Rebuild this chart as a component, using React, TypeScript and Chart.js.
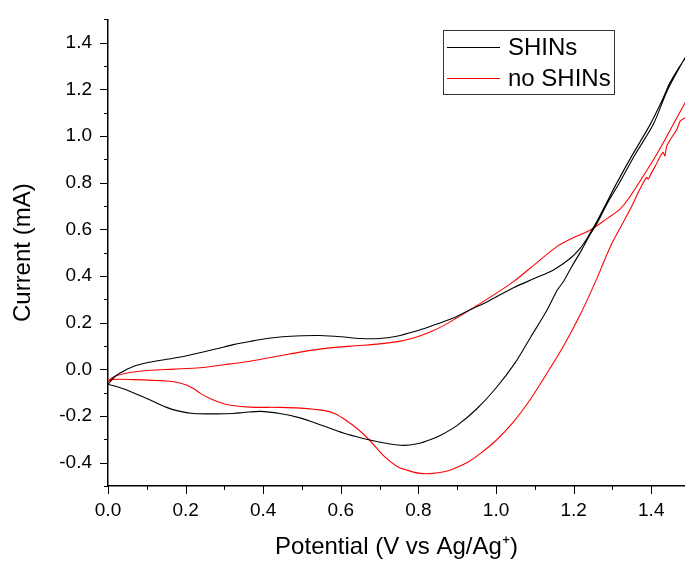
import React, { useEffect, useRef } from 'react';
import Chart from 'chart.js/auto';

const FONT = "'Liberation Sans', Arial, sans-serif";

// Tick labels
const potentialLabels = [0, 0.2, 0.4, 0.6, 0.8, 1.0, 1.2, 1.4];
const currentLabels = [-0.4, -0.2, 0, 0.2, 0.4, 0.6, 0.8, 1.0, 1.2, 1.4];

// Series names / colours
const seriesNames = ['SHINs', 'no SHINs'];
const seriesColors = ['#000000', '#ff0000'];

// SHINs: anodic (forward) scan, [potential V, current mA]
const shinsForward: [number, number][] = [
  [0, -0.064], [0.015, -0.035], [0.031, -0.016], [0.065, 0.012], [0.1, 0.028],
  [0.151, 0.043], [0.2, 0.057], [0.237, 0.071], [0.28, 0.088], [0.323, 0.106],
  [0.37, 0.121], [0.409, 0.132], [0.45, 0.14], [0.5, 0.144], [0.546, 0.145],
  [0.6, 0.14], [0.65, 0.132], [0.7, 0.132], [0.744, 0.142], [0.79, 0.162],
  [0.83, 0.184], [0.89, 0.22], [0.933, 0.255], [0.98, 0.292], [1.045, 0.35],
  [1.1, 0.39], [1.148, 0.426], [1.191, 0.475], [1.215, 0.515], [1.234, 0.56],
  [1.259, 0.631], [1.283, 0.708], [1.31, 0.795], [1.35, 0.915], [1.397, 1.049],
  [1.43, 1.16], [1.448, 1.228], [1.47, 1.29], [1.487, 1.333], [1.5, 1.37],
];
// SHINs: cathodic (reverse) scan
const shinsReverse: [number, number][] = [
  [1.5, 1.37], [1.487, 1.335], [1.465, 1.27], [1.44, 1.19], [1.405, 1.049],
  [1.36, 0.925], [1.318, 0.8], [1.285, 0.706], [1.26, 0.625],
  [1.242, 0.577], [1.22, 0.51], [1.195, 0.44], [1.175, 0.38], [1.16, 0.345],
  [1.156, 0.335], [1.13, 0.25], [1.09, 0.14], [1.05, 0.03], [1.0, -0.08],
  [0.95, -0.17], [0.9, -0.24], [0.86, -0.28], [0.83, -0.302],
  [0.8, -0.318], [0.761, -0.326], [0.72, -0.318], [0.675, -0.303], [0.615, -0.277],
  [0.56, -0.245], [0.529, -0.227], [0.495, -0.208], [0.443, -0.189], [0.392, -0.18],
  [0.35, -0.185], [0.323, -0.189], [0.28, -0.191], [0.22, -0.189], [0.18, -0.178],
  [0.151, -0.163], [0.1, -0.125], [0.065, -0.1], [0.03, -0.078], [0, -0.064],
];

// no SHINs: forward scan
const noShinsForward: [number, number][] = [
  [0, -0.05], [0.014, -0.033], [0.04, -0.019], [0.07, -0.01], [0.108, -0.004],
  [0.17, 0.001], [0.237, 0.007], [0.3, 0.02], [0.366, 0.035], [0.443, 0.058],
  [0.495, 0.074], [0.572, 0.092], [0.64, 0.101], [0.701, 0.109], [0.75, 0.12],
  [0.787, 0.134], [0.83, 0.16], [0.873, 0.195], [0.933, 0.255], [0.99, 0.315],
  [1.045, 0.376], [1.1, 0.45], [1.156, 0.525], [1.2, 0.565], [1.242, 0.596],
  [1.285, 0.645], [1.32, 0.688], [1.345, 0.74], [1.38, 0.83], [1.41, 0.91],
  [1.431, 0.971], [1.46, 1.06], [1.487, 1.142], [1.5, 1.18],
];
// no SHINs: reverse scan
const noShinsReverse: [number, number][] = [
  [1.5, 1.18], [1.495, 1.1], [1.487, 1.078], [1.475, 1.065], [1.466, 1.028],
  [1.455, 1.0], [1.44, 0.957], [1.435, 0.915], [1.43, 0.93], [1.41, 0.87],
  [1.4, 0.84], [1.392, 0.815], [1.388, 0.823], [1.371, 0.773], [1.35, 0.7],
  [1.328, 0.631], [1.3, 0.545], [1.28, 0.47], [1.26, 0.39], [1.22, 0.245],
  [1.174, 0.1], [1.13, -0.02], [1.09, -0.125], [1.045, -0.225], [1.0, -0.305],
  [0.96, -0.36], [0.93, -0.395], [0.9, -0.42], [0.87, -0.438], [0.83, -0.447],
  [0.8, -0.445], [0.77, -0.432], [0.744, -0.415], [0.71, -0.37], [0.675, -0.305],
  [0.645, -0.258], [0.615, -0.22], [0.585, -0.19], [0.555, -0.176], [0.495, -0.166],
  [0.443, -0.163], [0.366, -0.162], [0.32, -0.155], [0.29, -0.143], [0.263, -0.125],
  [0.24, -0.105], [0.22, -0.082], [0.2, -0.066], [0.18, -0.056], [0.151, -0.05],
  [0.065, -0.044], [0.014, -0.043], [0, -0.05],
];

const toPoints = (fwd: [number, number][], rev: [number, number][]) =>
  [...fwd, ...rev.slice(1)].map(([x, y]) => ({ x, y }));

const axisTicksPlugin = {
  id: 'axisTicks',
  afterDraw(chart: any) {
    const { ctx, chartArea, scales } = chart;
    const xs = scales.x;
    const ys = scales.y;
    ctx.save();
    ctx.strokeStyle = '#000';
    ctx.lineWidth = 1;
    for (let i = 0; i <= 20; i++) {
      const v = i / 10;
      if (v > xs.max + 1e-9) break;
      const px = Math.round(xs.getPixelForValue(v)) + 0.5;
      const len = i % 2 === 0 ? 8 : 4;
      ctx.beginPath();
      ctx.moveTo(px, chartArea.bottom);
      ctx.lineTo(px, chartArea.bottom + len);
      ctx.stroke();
    }
    for (let i = -5; i <= 15; i++) {
      const v = i / 10;
      if (v < ys.min - 1e-9 || v > ys.max + 1e-9) continue;
      const py = Math.round(ys.getPixelForValue(v)) + 0.5;
      const len = Math.abs(i % 2) === 0 ? 8 : 4;
      ctx.beginPath();
      ctx.moveTo(chartArea.left - len, py);
      ctx.lineTo(chartArea.left, py);
      ctx.stroke();
    }
    ctx.restore();
  },
};

const boxLegendPlugin = {
  id: 'boxLegend',
  afterDraw(chart: any) {
    const { ctx } = chart;
    const left = 443.5, top = 30.5, w = 171, h = 64;
    ctx.save();
    ctx.fillStyle = '#fff';
    ctx.fillRect(left, top, w, h);
    ctx.strokeStyle = '#333';
    ctx.lineWidth = 1;
    ctx.strokeRect(left, top, w, h);
    chart.data.datasets.forEach((ds: any, i: number) => {
      const cy = i === 0 ? 47 : 78;
      ctx.strokeStyle = ds.borderColor;
      ctx.lineWidth = 1;
      ctx.beginPath();
      ctx.moveTo(447, cy + 0.5);
      ctx.lineTo(500, cy + 0.5);
      ctx.stroke();
      ctx.fillStyle = '#000';
      ctx.font = `24px ${FONT}`;
      ctx.textBaseline = 'middle';
      ctx.textAlign = 'left';
      ctx.fillText(ds.label, 508, cy + 1);
    });
    ctx.restore();
  },
};

export default function App() {
  const ref = useRef<HTMLCanvasElement | null>(null);
  useEffect(() => {
    if (!ref.current) return;
    const chart = new Chart(ref.current, {
      type: 'scatter',
      data: {
        datasets: [
          {
            label: seriesNames[0],
            data: toPoints(shinsForward, shinsReverse),
            borderColor: seriesColors[0],
            backgroundColor: seriesColors[0],
            showLine: true,
            pointRadius: 0,
            borderWidth: 1.1,
            tension: 0.3,
          },
          {
            label: seriesNames[1],
            data: toPoints(noShinsForward, noShinsReverse),
            borderColor: seriesColors[1],
            backgroundColor: seriesColors[1],
            showLine: true,
            pointRadius: 0,
            borderWidth: 1.1,
            tension: 0.3,
          },
        ],
      },
      options: {
        responsive: false,
        animation: false,
        devicePixelRatio: 1,
        layout: { padding: { top: 16, right: 0, left: 0, bottom: 0 } },
        plugins: { legend: { display: false }, tooltip: { enabled: false } },
        scales: {
          x: {
            type: 'linear',
            min: 0,
            max: 1.487,
            afterFit: (s: any) => { s.height = 77; },
            afterBuildTicks: (s: any) => { s.ticks = potentialLabels.map((v) => ({ value: v })); },
            ticks: {
              callback: (v: any) => Number(v).toFixed(1),
              font: { family: FONT, size: 19 },
              color: '#000',
              padding: 5,
              maxRotation: 0,
              autoSkip: false,
            },
            grid: { drawOnChartArea: false, drawTicks: true, tickLength: 8, tickColor: 'rgba(0,0,0,0)' },
            border: { display: true, color: '#000', width: 1.5 },
            title: {
              display: true,
              text: 'Potential (V vs Ag/Ag\u207A)',
              font: { family: FONT, size: 24 },
              color: '#000',
              padding: { top: 0, bottom: 1 },
            },
          },
          y: {
            type: 'linear',
            min: -0.5,
            max: 1.5,
            afterFit: (s: any) => { s.width = 108; },
            afterBuildTicks: (s: any) => { s.ticks = currentLabels.map((v) => ({ value: v })); },
            ticks: {
              callback: (v: any) => Number(v).toFixed(1),
              font: { family: FONT, size: 19 },
              color: '#000',
              padding: 8,
              autoSkip: false,
            },
            grid: { drawOnChartArea: false, drawTicks: true, tickLength: 8, tickColor: 'rgba(0,0,0,0)' },
            border: { display: true, color: '#000', width: 1.5 },
            title: {
              display: true,
              text: 'Current (mA)',
              font: { family: FONT, size: 24 },
              color: '#000',
              padding: { top: 9, bottom: 0 },
            },
          },
        },
      },
      plugins: [axisTicksPlugin, boxLegendPlugin],
    } as any);
    return () => chart.destroy();
  }, []);

  return (
    <div style={{ position: 'fixed', left: 0, top: 0, width: 685, height: 563, background: '#fff' }}>
      <canvas ref={ref} width={685} height={563} style={{ width: 685, height: 563, display: 'block' }} />
    </div>
  );
}
